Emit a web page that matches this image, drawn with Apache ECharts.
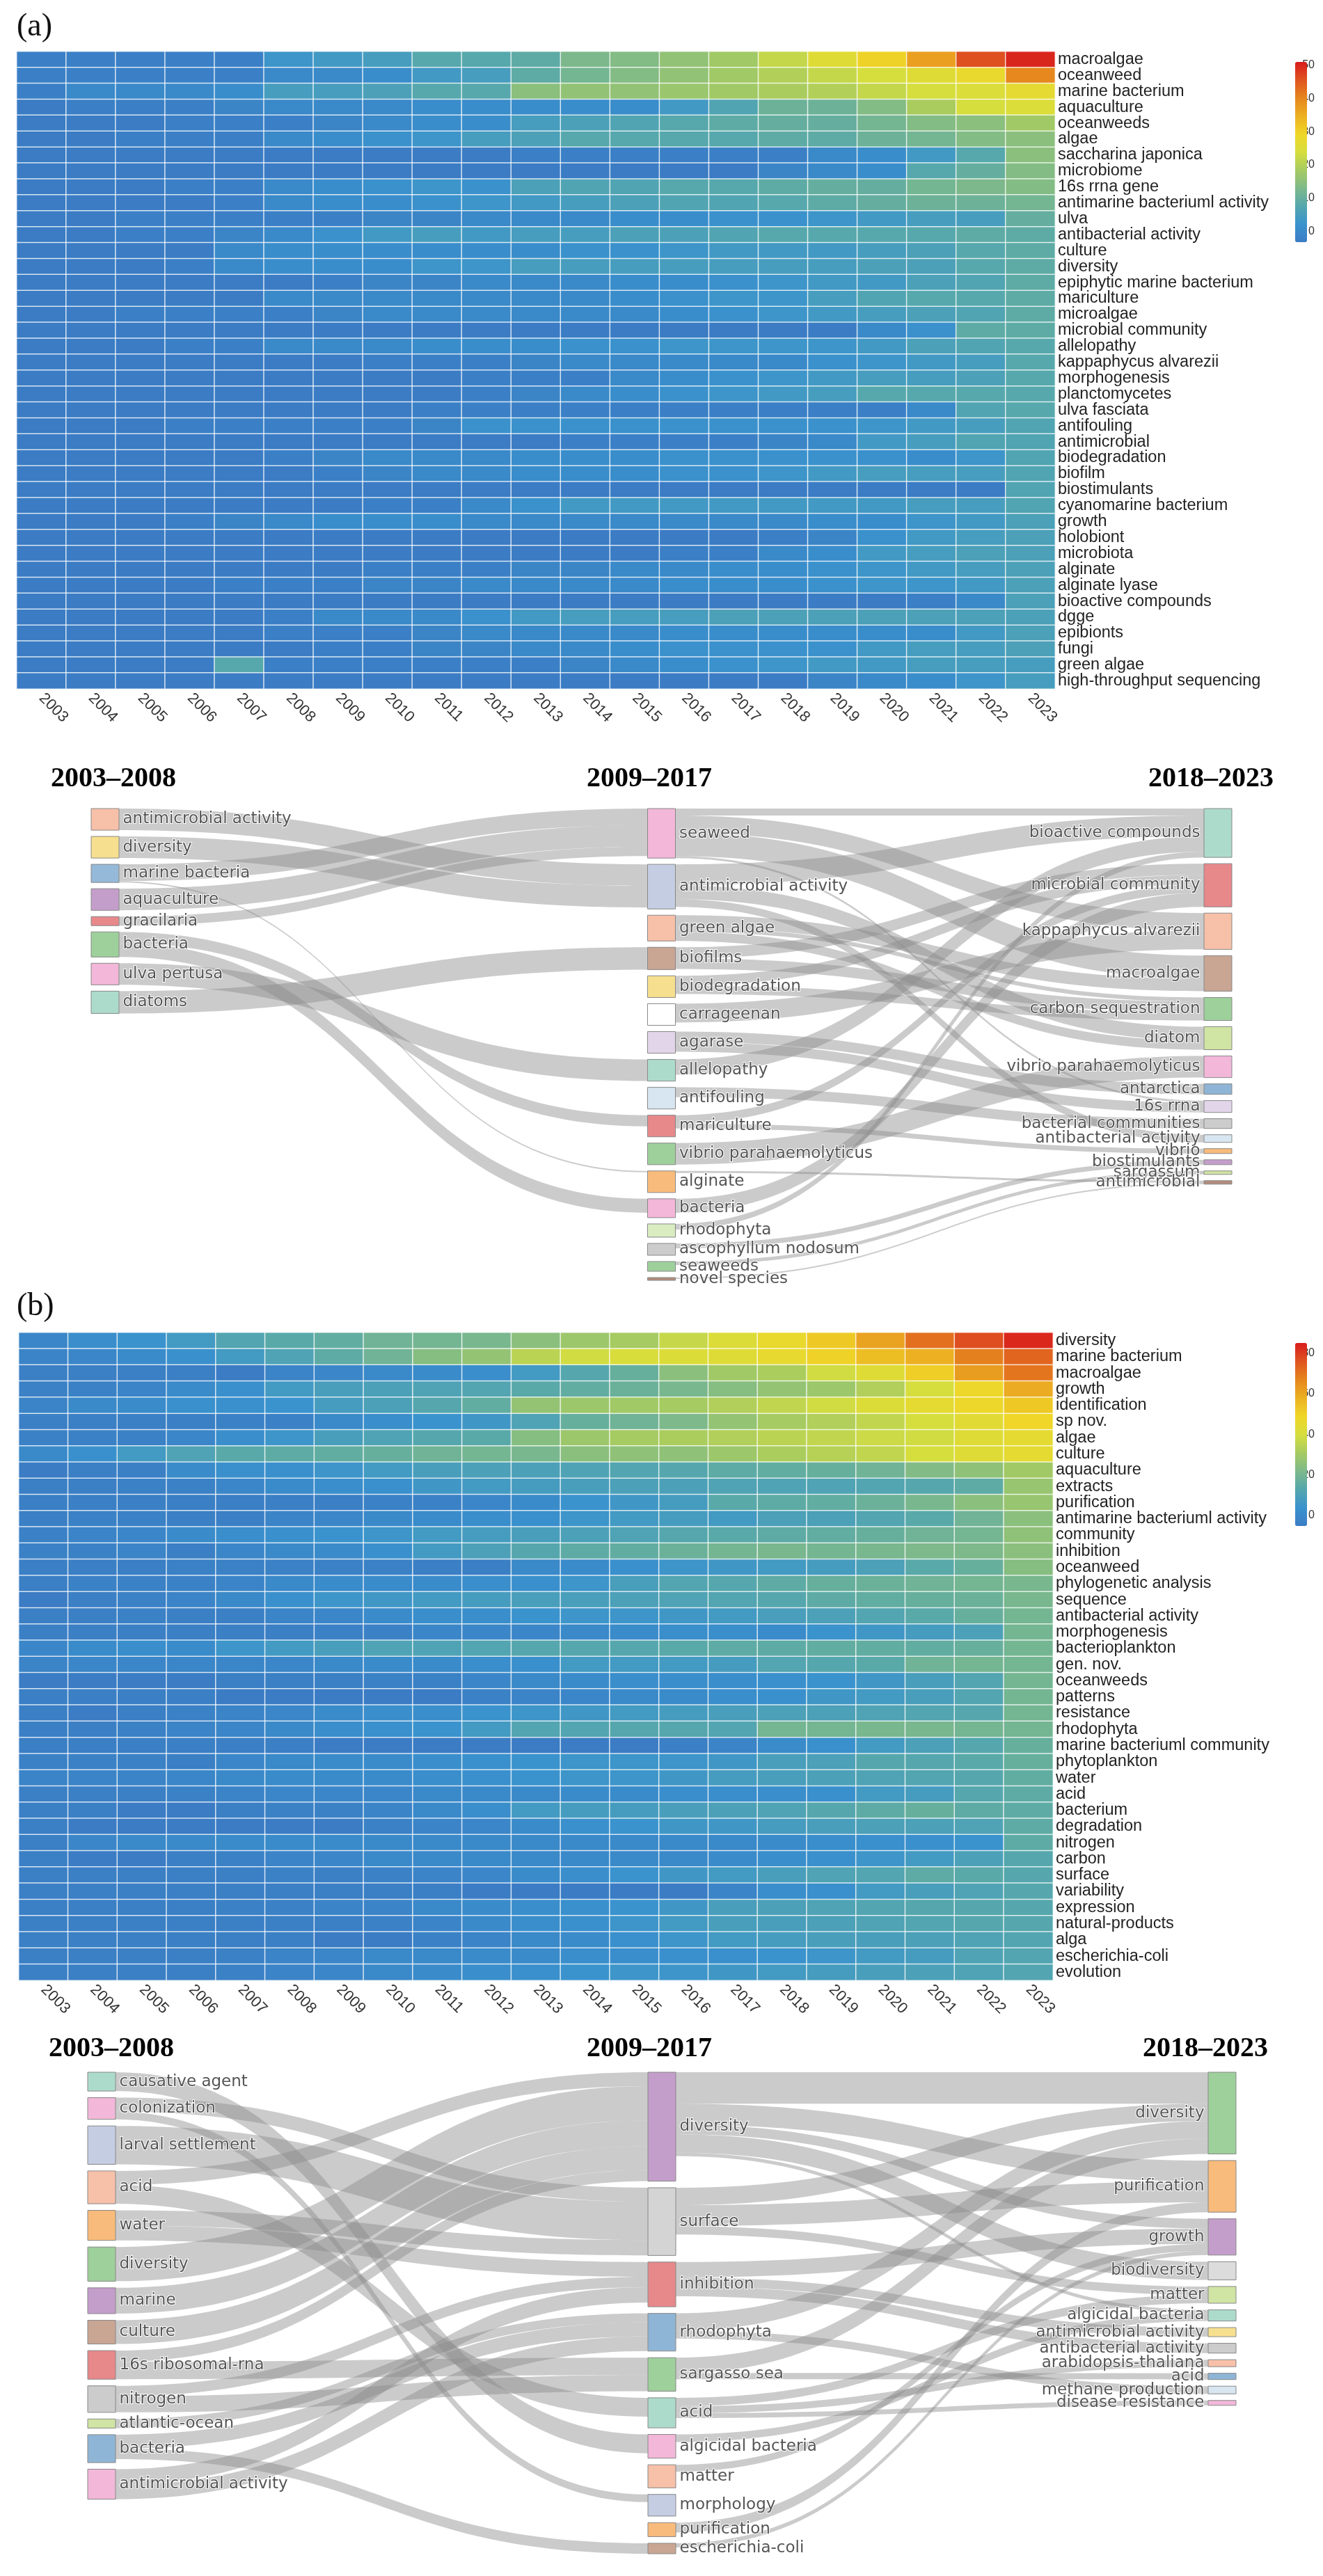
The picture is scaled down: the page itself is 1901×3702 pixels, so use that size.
<!DOCTYPE html>
<html>
<head>
<meta charset="utf-8">
<script src="https://cdn.jsdelivr.net/npm/echarts/dist/echarts.min.js"></script>
<style>
  body { margin: 0; background: #fff; }
  #main { width: 1901px; height: 3702px; }
</style>
</head>
<body>
<div id="main"></div>
<script>
// years shared by both heatmaps
var years = ['2003', '2004', '2005', '2006', '2007', '2008', '2009', '2010', '2011', '2012', '2013',
  '2014', '2015', '2016', '2017', '2018', '2019', '2020', '2021', '2022', '2023'];

// heatmap (a)
var keywordsA = ['macroalgae', 'oceanweed', 'marine bacterium', 'aquaculture', 'oceanweeds', 'algae',
  'saccharina japonica', 'microbiome', '16s rrna gene', 'antimarine bacteriuml activity', 'ulva',
  'antibacterial activity', 'culture', 'diversity', 'epiphytic marine bacterium', 'mariculture',
  'microalgae', 'microbial community', 'allelopathy', 'kappaphycus alvarezii', 'morphogenesis',
  'planctomycetes', 'ulva fasciata', 'antifouling', 'antimicrobial', 'biodegradation', 'biofilm',
  'biostimulants', 'cyanomarine bacterium', 'growth', 'holobiont', 'microbiota', 'alginate',
  'alginate lyase', 'bioactive compounds', 'dgge', 'epibionts', 'fungi', 'green algae',
  'high-throughput sequencing'];
var valuesA = [
  [1,1,1,1,1,6,7,8,11,11,12,16,17,19,21,25,29,33,40,49,53],
  [1,1,1,1,1,3,3,4,7,8,12,15,17,19,21,23,25,27,29,31,43],
  [1,3,3,3,4,8,8,9,11,11,18,19,19,20,21,22,23,25,27,28,30],
  [0,1,1,1,2,3,3,3,4,4,4,4,4,7,10,14,14,17,22,27,28],
  [0,0,0,1,1,1,2,3,4,4,8,9,10,11,12,13,13,15,17,18,21],
  [0,0,1,1,1,3,4,5,6,8,9,11,11,11,11,12,12,14,15,17,18],
  [0,0,0,0,0,0,0,0,0,0,1,1,1,1,1,1,3,4,7,11,18],
  [0,0,0,0,0,0,0,0,0,0,0,0,0,0,0,2,3,4,11,13,17],
  [0,0,0,1,1,3,4,5,6,5,9,10,10,11,11,12,13,13,15,16,17],
  [0,0,0,0,1,3,4,4,5,6,7,8,9,10,10,11,12,13,14,14,15],
  [0,0,1,1,1,1,1,2,2,3,3,3,4,4,5,5,6,7,8,8,13],
  [0,0,1,1,2,3,5,7,8,7,8,8,9,9,10,11,11,11,11,12,12],
  [0,0,0,0,3,4,4,4,4,4,4,5,5,6,7,7,7,8,9,11,12],
  [0,0,0,1,3,4,4,4,6,6,8,8,8,8,8,8,8,9,9,11,12],
  [0,0,0,0,0,0,1,2,2,3,3,3,4,4,5,6,7,7,9,10,12],
  [0,0,0,0,0,3,3,3,3,3,3,3,4,5,6,6,8,10,11,11,12],
  [0,0,1,1,1,1,2,3,3,3,3,3,3,4,5,6,7,8,9,10,12],
  [0,0,0,0,0,0,0,0,0,0,0,0,0,0,0,0,0,3,5,12,12],
  [0,0,0,1,1,3,3,3,4,4,4,5,5,6,6,6,6,7,9,10,11],
  [0,0,0,0,0,0,0,1,1,1,2,3,3,3,3,3,5,6,7,8,11],
  [0,0,0,0,0,0,0,0,0,1,1,1,3,4,5,6,7,8,8,9,11],
  [0,0,0,0,0,0,0,0,0,1,2,3,4,5,6,7,8,11,11,11,11],
  [0,0,0,0,0,0,0,0,1,1,1,1,1,1,1,1,1,1,3,10,11],
  [0,0,0,1,1,1,1,1,2,5,5,5,5,5,5,5,5,6,7,8,10],
  [0,0,0,0,0,0,0,0,0,0,0,1,1,1,1,2,3,7,8,10,10],
  [0,0,0,0,0,1,2,3,3,3,4,4,4,5,5,5,5,5,4,6,10],
  [0,0,0,0,0,0,1,2,3,3,4,4,4,5,5,6,7,8,8,8,10],
  [0,0,0,0,0,0,0,0,0,0,0,0,0,0,0,0,0,0,0,0,10],
  [0,0,0,0,0,0,0,1,1,3,5,7,7,7,7,7,7,7,8,8,10],
  [0,0,0,1,2,3,4,4,4,3,3,3,3,3,3,3,4,4,6,7,9],
  [0,0,0,0,0,0,0,0,0,0,0,0,0,0,0,1,2,5,7,8,9],
  [0,0,0,0,0,0,0,0,0,0,0,0,0,1,1,3,4,7,8,9,9],
  [0,0,0,0,0,0,0,1,1,1,2,2,3,3,4,4,5,6,7,8,9],
  [0,0,0,0,1,1,1,2,2,3,3,3,3,4,4,4,5,6,6,7,9],
  [0,0,0,0,0,0,0,0,0,0,0,0,0,0,0,0,0,0,1,3,9],
  [0,0,0,0,0,1,3,3,3,5,7,8,8,8,9,9,9,9,9,9,9],
  [0,0,0,0,0,1,1,1,2,3,3,3,3,4,4,4,4,4,4,7,9],
  [0,0,0,0,0,0,1,1,2,2,3,3,4,5,5,5,5,7,8,8,9],
  [0,0,0,0,11,1,1,1,1,1,1,2,3,4,5,6,7,7,8,8,8],
  [0,0,0,0,0,0,0,0,0,0,0,0,0,0,0,0,2,3,4,6,8]
];

// heatmap (b)
var keywordsB = ['diversity', 'marine bacterium', 'macroalgae', 'growth', 'identification', 'sp nov.',
  'algae', 'culture', 'aquaculture', 'extracts', 'purification', 'antimarine bacteriuml activity',
  'community', 'inhibition', 'oceanweed', 'phylogenetic analysis', 'sequence', 'antibacterial activity',
  'morphogenesis', 'bacterioplankton', 'gen. nov.', 'oceanweeds', 'patterns', 'resistance', 'rhodophyta',
  'marine bacteriuml community', 'phytoplankton', 'water', 'acid', 'bacterium', 'degradation', 'nitrogen',
  'carbon', 'surface', 'variability', 'expression', 'natural-products', 'alga', 'escherichia-coli',
  'evolution'];
var valuesB = [
  [4,7,9,12,17,19,21,24,25,26,30,34,36,42,47,52,57,66,76,82,88],
  [3,4,6,8,12,16,20,24,29,32,40,44,46,47,48,51,55,60,63,73,78],
  [1,1,1,1,0,3,4,5,6,7,12,18,22,30,35,37,44,48,56,67,75],
  [2,2,3,6,8,12,14,15,16,17,19,21,23,26,29,32,34,38,45,53,64],
  [3,5,6,8,8,9,13,15,18,21,32,34,35,36,38,41,44,47,50,53,57],
  [1,1,1,1,2,2,5,7,9,11,16,22,24,27,32,36,38,41,45,49,54],
  [2,2,2,4,7,10,14,16,18,19,29,34,36,37,38,40,41,43,44,48,50],
  [5,8,12,16,19,20,21,22,24,25,26,30,31,31,34,37,39,41,45,48,50],
  [0,1,1,6,8,8,10,12,14,15,15,16,17,18,20,21,22,24,28,31,35],
  [1,1,2,2,4,6,7,8,11,12,13,14,15,15,16,16,16,17,18,20,33],
  [1,1,1,1,1,1,1,2,2,4,6,9,11,13,19,20,21,23,26,30,33],
  [1,2,2,1,1,3,4,5,6,7,8,10,12,13,12,15,15,17,19,24,30],
  [2,3,4,6,7,8,9,10,12,13,14,15,16,18,19,20,21,22,24,25,31],
  [2,2,3,1,4,5,6,8,12,15,18,20,21,23,25,26,25,26,27,27,30],
  [1,1,1,2,2,2,2,2,1,1,5,6,8,10,11,12,13,15,19,22,29],
  [1,2,2,2,3,5,6,6,6,7,8,10,14,17,18,20,22,23,24,25,26],
  [0,1,2,3,5,8,10,11,12,13,14,14,15,16,17,18,20,21,22,23,26],
  [1,1,2,1,1,3,4,6,7,7,9,10,10,11,12,14,15,17,19,22,25],
  [1,1,1,1,1,1,2,2,4,4,4,5,6,7,7,6,9,11,13,15,25],
  [4,6,7,6,10,12,14,16,16,17,18,18,18,19,20,20,21,21,21,22,25],
  [3,4,4,4,4,4,5,6,6,7,8,12,12,12,13,17,18,19,24,25,25],
  [0,0,0,0,1,1,1,2,2,4,5,6,7,7,7,8,9,11,14,17,25],
  [1,1,1,1,0,0,0,0,0,2,3,4,5,6,7,8,11,12,14,17,25],
  [1,0,1,2,3,4,6,7,7,9,10,11,12,13,14,15,15,16,17,18,25],
  [1,1,2,3,4,5,7,8,9,12,17,17,18,18,17,25,25,26,26,25,25],
  [1,1,1,1,1,1,0,0,0,0,0,0,0,1,3,6,8,12,15,18,22],
  [2,2,2,1,4,5,6,6,7,8,9,10,10,10,11,14,15,18,18,19,22],
  [3,3,3,4,5,6,6,6,7,8,9,10,10,11,13,14,15,16,17,18,21],
  [1,1,1,2,3,4,4,4,5,5,5,6,6,7,7,7,8,12,13,18,20],
  [1,1,0,0,1,2,2,3,5,7,12,13,13,14,15,16,18,20,22,20,20],
  [1,0,0,0,0,0,0,2,3,4,6,8,9,11,11,13,14,15,15,16,20],
  [1,4,5,5,6,6,6,5,5,5,5,5,5,5,5,6,7,8,8,9,20],
  [1,0,0,1,2,3,4,5,5,5,5,5,5,5,6,7,8,10,12,15,18],
  [1,1,1,1,1,2,1,2,3,4,6,7,9,11,12,14,16,17,20,19,18],
  [1,1,1,1,1,1,1,1,1,0,0,0,0,0,3,7,8,12,14,16,18],
  [1,1,1,1,2,2,3,3,5,6,7,8,9,11,14,15,16,17,18,18,18],
  [1,1,1,1,1,1,1,2,3,5,7,8,10,12,14,14,15,16,17,18,18],
  [1,1,1,1,1,1,0,0,2,3,5,6,8,10,12,13,14,14,15,16,17],
  [1,1,1,1,2,3,4,5,5,6,6,7,7,8,8,9,10,12,13,16,17],
  [1,1,1,1,2,3,4,5,6,7,8,9,10,10,11,12,13,14,15,16,17]
];

// sankey (a): columns, node sizes, node colours, links
var sankeyA_cols = [
  ['antimicrobial activity', 'diversity', 'marine bacteria', 'aquaculture', 'gracilaria', 'bacteria',
    'ulva pertusa', 'diatoms'],
  ['seaweed', 'antimicrobial activity', 'green algae', 'biofilms', 'biodegradation', 'carrageenan',
    'agarase', 'allelopathy', 'antifouling', 'mariculture', 'vibrio parahaemolyticus', 'alginate',
    'bacteria', 'rhodophyta', 'ascophyllum nodosum', 'seaweeds', 'novel species'],
  ['bioactive compounds', 'microbial community', 'kappaphycus alvarezii', 'macroalgae',
    'carbon sequestration', 'diatom', 'vibrio parahaemolyticus', 'antarctica', '16s rrna',
    'bacterial communities', 'antibacterial activity', 'vibrio', 'biostimulants', 'sargassum',
    'antimicrobial']
];
var sankeyA_sizes = [
  [31, 31, 26, 31, 13, 36, 31, 32],
  [71, 64, 37, 31, 31, 31, 31, 31, 31, 31, 31, 31, 27, 19, 17, 14, 4],
  [70, 62, 52, 51, 33, 33, 31, 15, 17, 14, 11, 7, 7, 5, 5]
];
var sankeyA_colors = [
  ['#f7c0a8', '#f6e08f', '#95b9d8', '#c49ecb', '#e7888b', '#9ed09b', '#f2b7d9', '#acdbcc'],
  ['#f2b7d9', '#c5cde3', '#f7c0a8', '#c9a593', '#f6e08f', '#ffffff', '#e3d5e9', '#acdbcc', '#d7e6f0',
    '#e7888b', '#9ed09b', '#f8bb7b', '#f2b7d9', '#d9edc1', '#cccccc', '#9ed09b', '#b38c7c'],
  ['#acdbcc', '#e7888b', '#f7c0a8', '#c9a593', '#9ed09b', '#d0e4a4', '#f2b7d9', '#8fb5d6', '#e3d5e9',
    '#cccccc', '#d7e6f0', '#f8bb7b', '#c49ecb', '#d0e4a4', '#b38c7c']
];
var sankeyA_links1 = [
  ['antimicrobial activity', 'antimicrobial activity', 31], ['diversity', 'antimicrobial activity', 31],
  ['marine bacteria', 'seaweed', 24], ['marine bacteria', 'alginate', 2], ['aquaculture', 'seaweed', 31],
  ['gracilaria', 'seaweed', 13], ['bacteria', 'mariculture', 16], ['bacteria', 'bacteria', 20],
  ['ulva pertusa', 'allelopathy', 31], ['diatoms', 'biofilms', 32]
];
var sankeyA_links2 = [
  ['seaweed', 'bioactive compounds', 10], ['seaweed', 'kappaphycus alvarezii', 25],
  ['seaweed', 'macroalgae', 33], ['seaweed', '16s rrna', 3],
  ['antimicrobial activity', 'bioactive compounds', 30], ['antimicrobial activity', 'diatom', 20],
  ['antimicrobial activity', 'antibacterial activity', 11],
  ['green algae', 'macroalgae', 18], ['green algae', 'diatom', 13], ['green algae', 'carbon sequestration', 6],
  ['biofilms', 'microbial community', 16], ['biofilms', 'carbon sequestration', 15],
  ['biodegradation', 'carbon sequestration', 12], ['biodegradation', 'microbial community', 14],
  ['carrageenan', 'kappaphycus alvarezii', 27], ['agarase', 'antarctica', 15], ['agarase', '16s rrna', 14],
  ['allelopathy', 'bioactive compounds', 22], ['antifouling', 'bacterial communities', 14],
  ['mariculture', 'microbial community', 12], ['mariculture', 'vibrio', 7],
  ['vibrio parahaemolyticus', 'vibrio parahaemolyticus', 31], ['alginate', 'antimicrobial', 3],
  ['bacteria', 'microbial community', 20], ['rhodophyta', 'bioactive compounds', 8],
  ['ascophyllum nodosum', 'biostimulants', 7], ['seaweeds', 'sargassum', 5], ['novel species', 'antimicrobial', 2]
];

// sankey (b)
var sankeyB_cols = [
  ['causative agent', 'colonization', 'larval settlement', 'acid', 'water', 'diversity', 'marine', 'culture',
    '16s ribosomal-rna', 'nitrogen', 'atlantic-ocean', 'bacteria', 'antimicrobial activity'],
  ['diversity', 'surface', 'inhibition', 'rhodophyta', 'sargasso sea', 'acid', 'algicidal bacteria', 'matter',
    'morphology', 'purification', 'escherichia-coli'],
  ['diversity', 'purification', 'growth', 'biodiversity', 'matter', 'algicidal bacteria', 'antimicrobial activity',
    'antibacterial activity', 'arabidopsis-thaliana', 'acid', 'methane production', 'disease resistance']
];
var sankeyB_sizes = [
  [27, 31, 55, 47, 43, 49, 37, 34, 41, 38, 13, 40, 43],
  [156, 97, 64, 54, 48, 43, 34, 33, 31, 20, 15],
  [117, 74, 52, 26, 24, 16, 13, 14, 10, 9, 11, 7]
];
var sankeyB_colors = [
  ['#acdbcc', '#f2b7d9', '#c5cde3', '#f7c0a8', '#f8bb7b', '#9ed09b', '#c49ecb', '#c9a593', '#e7888b',
    '#cccccc', '#d0e4a4', '#8fb5d6', '#f2b7d9'],
  ['#c49ecb', '#d4d4d4', '#e7888b', '#8fb5d6', '#9ed09b', '#acdbcc', '#f2b7d9', '#f7c0a8', '#c5cde3',
    '#f8bb7b', '#c9a593'],
  ['#9ed09b', '#f8bb7b', '#c49ecb', '#dcdcdc', '#d0e4a4', '#acdbcc', '#f6e08f', '#cccccc', '#f7c0a8',
    '#8fb5d6', '#d7e6f0', '#f2b7d9']
];
var sankeyB_links1 = [
  ['causative agent', 'algicidal bacteria', 27], ['colonization', 'surface', 20], ['colonization', 'morphology', 11],
  ['larval settlement', 'surface', 55], ['acid', 'diversity', 20], ['acid', 'acid', 27],
  ['water', 'surface', 22], ['water', 'inhibition', 21], ['diversity', 'diversity', 49],
  ['marine', 'diversity', 37], ['culture', 'diversity', 34], ['16s ribosomal-rna', 'diversity', 16],
  ['16s ribosomal-rna', 'sargasso sea', 25], ['nitrogen', 'sargasso sea', 23], ['nitrogen', 'inhibition', 15],
  ['atlantic-ocean', 'rhodophyta', 13], ['bacteria', 'rhodophyta', 20], ['bacteria', 'escherichia-coli', 15],
  ['antimicrobial activity', 'inhibition', 22], ['antimicrobial activity', 'rhodophyta', 21]
];
var sankeyB_links2 = [
  ['diversity', 'diversity', 45], ['diversity', 'purification', 30], ['diversity', 'growth', 14],
  ['diversity', 'biodiversity', 26], ['diversity', 'algicidal bacteria', 5],
  ['surface', 'diversity', 25], ['surface', 'purification', 30], ['surface', 'matter', 12],
  ['inhibition', 'growth', 22], ['inhibition', 'antimicrobial activity', 13], ['inhibition', 'antibacterial activity', 14],
  ['rhodophyta', 'diversity', 25], ['rhodophyta', 'methane production', 11],
  ['sargasso sea', 'diversity', 22], ['sargasso sea', 'acid', 9],
  ['acid', 'matter', 12], ['acid', 'arabidopsis-thaliana', 10], ['acid', 'disease resistance', 7],
  ['algicidal bacteria', 'algicidal bacteria', 11], ['matter', 'growth', 10],
  ['purification', 'purification', 14], ['escherichia-coli', 'growth', 6]
];

var heatColors = ['#3b7cc4', '#3a93cd', '#55a7ad', '#7db98a', '#a6cb62', '#d6de3e', '#efd628',
  '#ecb022', '#e6861e', '#df5420', '#d81c1c'];

function heatData(values) {
  var out = [];
  for (var r = 0; r < values.length; r++) {
    for (var c = 0; c < values[r].length; c++) {
      out.push([c, r, values[r][c]]);
    }
  }
  return out;
}

function buildSankey(cols, sizes, colors, links1, links2) {
  var tags = ['#L', '#M', '#R'];
  var nodes = [];
  cols.forEach(function (col, d) {
    col.forEach(function (name, i) {
      nodes.push({
        name: name + tags[d], value: sizes[d][i], depth: d,
        itemStyle: { color: colors[d][i] }
      });
    });
  });
  var links = [];
  links1.forEach(function (l) { links.push({ source: l[0] + '#L', target: l[1] + '#M', value: l[2] }); });
  links2.forEach(function (l) { links.push({ source: l[0] + '#M', target: l[1] + '#R', value: l[2] }); });
  return { nodes: nodes, links: links };
}

var sA = buildSankey(sankeyA_cols, sankeyA_sizes, sankeyA_colors, sankeyA_links1, sankeyA_links2);
var sB = buildSankey(sankeyB_cols, sankeyB_sizes, sankeyB_colors, sankeyB_links1, sankeyB_links2);

var labelFont = 'Liberation Sans';

function catX(grid) {
  return {
    type: 'category', gridIndex: grid, data: years,
    axisLine: { show: false }, axisTick: { show: false }, splitLine: { show: false },
    axisLabel: { rotate: -45, interval: 0, fontSize: 22, color: '#333', fontFamily: labelFont, margin: 10 }
  };
}
function catY(grid, names) {
  return {
    type: 'category', gridIndex: grid, data: names, inverse: true, position: 'right',
    axisLine: { show: false }, axisTick: { show: false }, splitLine: { show: false },
    axisLabel: { interval: 0, fontSize: 23.5, color: '#222', fontFamily: labelFont, margin: 4 }
  };
}
// axis that carries the tick labels next to a colour bar (labels sit left of a 1px grid)
function legendY(grid, max, step) {
  return {
    type: 'value', gridIndex: grid, min: 0, max: max, interval: step, position: 'left',
    axisLine: { show: false }, axisTick: { show: false }, splitLine: { show: false },
    axisLabel: { fontSize: 16, color: '#333', fontFamily: labelFont, margin: 4, showMaxLabel: false }
  };
}
function hiddenX(grid) {
  return { type: 'value', gridIndex: grid, min: 0, max: 1, show: false };
}

var sankeyLabel = {
  fontFamily: 'DejaVu Sans', fontSize: 23, color: '#555',
  textBorderColor: '#fff', textBorderWidth: 2,
  formatter: function (p) { return p.name.split('#')[0]; }
};

var myChart = echarts.init(document.getElementById('main'), null, { renderer: 'canvas' });

var option = {
  backgroundColor: '#fff',
  animation: false,
  grid: [
    { left: 24, top: 74, width: 1492, height: 916, outerBoundsMode: 'none' },
    { left: 27, top: 1915, width: 1486, height: 931, outerBoundsMode: 'none' },
    { left: 1893, top: 74, width: 1, height: 259, outerBoundsMode: 'none' },
    { left: 1893, top: 1915, width: 1, height: 263, outerBoundsMode: 'none' }
  ],
  xAxis: [catX(0), catX(1), hiddenX(2), hiddenX(3)],
  yAxis: [catY(0, keywordsA), catY(1, keywordsB), legendY(2, 54, 10), legendY(3, 90, 20)],
  visualMap: [
    {
      type: 'continuous', min: 0, max: 54, seriesIndex: 0, calculable: false,
      left: 1846, top: 74, itemWidth: 17, itemHeight: 259, text: ['', ''],
      inRange: { color: heatColors }
    },
    {
      type: 'continuous', min: 0, max: 90, seriesIndex: 1, calculable: false,
      left: 1846, top: 1915, itemWidth: 17, itemHeight: 263, text: ['', ''],
      inRange: { color: heatColors }
    }
  ],
  graphic: [
    { type: 'text', left: 24, top: 16, style: { text: '(a)', font: '46px "Liberation Serif"', fill: '#111' } },
    { type: 'text', left: 24, top: 1855, style: { text: '(b)', font: '46px "Liberation Serif"', fill: '#111' } },
    { type: 'text', x: 163, y: 1120, style: { text: '2003–2008', font: 'bold 40px "Liberation Serif"', fill: '#000', textAlign: 'center', textVerticalAlign: 'middle' } },
    { type: 'text', x: 933, y: 1120, style: { text: '2009–2017', font: 'bold 40px "Liberation Serif"', fill: '#000', textAlign: 'center', textVerticalAlign: 'middle' } },
    { type: 'text', x: 1740, y: 1120, style: { text: '2018–2023', font: 'bold 40px "Liberation Serif"', fill: '#000', textAlign: 'center', textVerticalAlign: 'middle' } },
    { type: 'text', x: 160, y: 2945, style: { text: '2003–2008', font: 'bold 40px "Liberation Serif"', fill: '#000', textAlign: 'center', textVerticalAlign: 'middle' } },
    { type: 'text', x: 933, y: 2945, style: { text: '2009–2017', font: 'bold 40px "Liberation Serif"', fill: '#000', textAlign: 'center', textVerticalAlign: 'middle' } },
    { type: 'text', x: 1732, y: 2945, style: { text: '2018–2023', font: 'bold 40px "Liberation Serif"', fill: '#000', textAlign: 'center', textVerticalAlign: 'middle' } }
  ],
  series: [
    {
      type: 'heatmap', xAxisIndex: 0, yAxisIndex: 0, data: heatData(valuesA),
      itemStyle: { borderColor: 'rgba(255,255,255,0.75)', borderWidth: 1.5 }
    },
    {
      type: 'heatmap', xAxisIndex: 1, yAxisIndex: 1, data: heatData(valuesB),
      itemStyle: { borderColor: 'rgba(255,255,255,0.75)', borderWidth: 1.5 }
    },
    {
      type: 'sankey', left: 131, top: 1162, width: 1639, height: 678,
      nodeWidth: 40, nodeGap: 9, layoutIterations: 0, draggable: false,
      data: sA.nodes, links: sA.links,
      label: sankeyLabel,
      levels: [{ depth: 2, label: { position: 'left' } }],
      itemStyle: { borderColor: '#888', borderWidth: 1 },
      lineStyle: { color: '#8c8c8c', opacity: 0.45, curveness: 0.5 },
      emphasis: { disabled: true }
    },
    {
      type: 'sankey', left: 126, top: 2978, width: 1650, height: 692,
      nodeWidth: 40, nodeGap: 9.5, layoutIterations: 0, draggable: false,
      data: sB.nodes, links: sB.links,
      label: sankeyLabel,
      levels: [{ depth: 2, label: { position: 'left' } }],
      itemStyle: { borderColor: '#888', borderWidth: 1 },
      lineStyle: { color: '#8c8c8c', opacity: 0.45, curveness: 0.5 },
      emphasis: { disabled: true }
    }
  ]
};

myChart.setOption(option);
</script>
</body>
</html>
